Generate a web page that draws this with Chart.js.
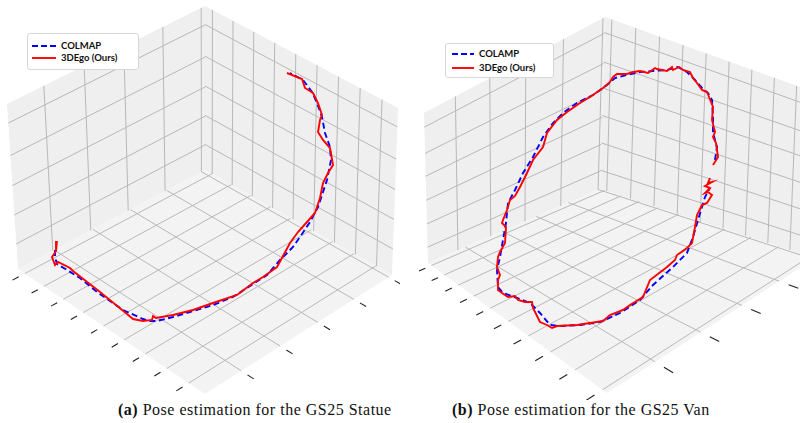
<!DOCTYPE html>
<html>
<head>
<meta charset="utf-8">
<script src="https://cdn.jsdelivr.net/npm/chart.js@4.4.0/dist/chart.umd.min.js"></script>
<style>
    body { margin: 0; width: 800px; height: 423px; overflow: hidden; background: #fff; position: relative; }
    .panel { position: absolute; top: 0; width: 400px; height: 400px; }
    .legend { position: absolute; background: #fff; border: 1px solid #d6d6d6; border-radius: 3px; font: bold 9.5px Lato, sans-serif; color: #111; }
    .legend div { position: absolute; white-space: nowrap; line-height: 10px; }
    .legend svg { position: absolute; }
    .caption { position: absolute; top: 401px; font: 16px 'Liberation Serif', serif; letter-spacing: 0.5px; color: #111; white-space: nowrap; }
</style>
</head>
<body>
<canvas id="statueChart" class="panel" width="400" height="400" style="left:0"></canvas>
<canvas id="vanChart" class="panel" width="400" height="400" style="left:400px"></canvas>

<div class="legend" style="left:27px;top:33px;width:110px;height:35px">
    <svg style="left:4px;top:10px" width="24" height="4"><line x1="0" y1="2" x2="24" y2="2" stroke="#0000ff" stroke-width="1.9" stroke-dasharray="6,3"/></svg>
    <div style="left:33px;top:7px" id="statueLabel0"></div>
    <svg style="left:4px;top:22px" width="24" height="4"><line x1="0" y1="2" x2="24" y2="2" stroke="#ff0000" stroke-width="1.9"/></svg>
    <div style="left:33px;top:19px" id="statueLabel1"></div>
</div>
<div class="legend" style="left:445px;top:43px;width:107px;height:33px">
    <svg style="left:6px;top:8px" width="22" height="4"><line x1="0" y1="2" x2="22" y2="2" stroke="#0000ff" stroke-width="1.9" stroke-dasharray="6,3"/></svg>
    <div style="left:33px;top:5px" id="vanLabel0"></div>
    <svg style="left:6px;top:22px" width="22" height="4"><line x1="0" y1="2" x2="22" y2="2" stroke="#ff0000" stroke-width="1.9"/></svg>
    <div style="left:33px;top:19px" id="vanLabel1"></div>
</div>

<div class="caption" style="left:118px"><b>(a)</b> Pose estimation for the GS25 Statue</div>
<div class="caption" style="left:452px"><b>(b)</b> Pose estimation for the GS25 Van</div>

<script>
// Trajectories in page pixels (x right, y down)
const statueLabels = ['COLMAP', '3DEgo (Ours)'];
const statueColmap = [[55,250],[55,257],[57,264],[67,270],[80,278],[97,292],[123,310],[143,319],[150,321],[157,321],[173,317],[193,311],[213,305],[233,297],[253,284],[267,275],[280,260],[293,247],[302,234],[310,222],[318,207],[323,192],[327,180],[331,160],[330,147],[325,133],[322,117],[317,103],[312,92],[303,80],[290,73]];
const statueOurs = [[57,241],[56,251],[52,257],[55,265],[58,262],[70,268],[73,271],[100,292],[127,314],[133,319],[143,321],[152,320],[153,316],[156,318],[173,315],[193,310],[213,303],[237,295],[253,283],[263,277],[277,267],[283,256],[290,243],[298,232],[307,222],[315,213],[320,198],[323,183],[328,173],[333,165],[330,148],[323,140],[318,132],[320,120],[322,115],[318,103],[313,93],[305,88],[302,79],[287,73]];

const vanLabels = ['COLAMP', '3DEgo (Ours)'];
const vanColmap = [[715,160],[717,147],[713,133],[713,117],[712,100],[708,93],[702,88],[695,80],[687,72],[678,67],[667,70],[653,71],[640,72],[627,75],[615,78],[607,85],[593,95],[577,103],[563,113],[553,123],[543,137],[533,157],[523,173],[515,190],[508,203],[506,223],[503,240],[500,257],[497,270],[498,287],[503,293],[517,298],[530,303],[540,313],[550,325],[560,326],[580,325],[600,322],[620,313],[640,300],[653,285],[673,267],[687,253],[693,237],[698,220],[702,207],[705,197],[710,188]];
const vanOurs = [[713,165],[718,157],[716,143],[713,137],[715,132],[712,120],[713,107],[709,97],[707,92],[702,90],[697,83],[693,78],[690,72],[683,70],[679,67],[673,70],[672,67],[667,71],[657,69],[655,68],[648,73],[640,71],[633,72],[627,74],[617,74],[613,77],[610,82],[603,88],[590,97],[580,103],[567,112],[557,120],[547,133],[543,147],[533,160],[527,173],[520,187],[515,196],[510,200],[507,210],[503,220],[502,223],[506,227],[505,243],[500,252],[498,257],[497,267],[500,275],[498,280],[498,290],[502,293],[508,297],[515,296],[518,300],[525,302],[532,302],[533,308],[540,322],[547,325],[552,328],[557,326],[577,325],[590,323],[603,321],[610,315],[623,310],[630,305],[643,297],[650,280],[667,267],[675,260],[677,255],[687,248],[692,243],[695,227],[697,215],[702,205],[707,203],[712,195],[708,192],[705,193],[710,188],[705,186],[712,182],[708,183],[710,178]];

// Grid tick fractions along the three box axes
const statueTicksU = [0.02, 0.22, 0.42, 0.62, 0.82];
const statueTicksV = [0.04, 0.15, 0.26, 0.37, 0.48, 0.59, 0.70, 0.81, 0.92];
const statueTicksZ = [0.16, 0.34, 0.52, 0.70, 0.89];
const vanTicksU = [0.01, 0.21, 0.41, 0.61, 0.81];
const vanTicksV = [0.03, 0.136, 0.242, 0.348, 0.454, 0.56, 0.666, 0.772, 0.878, 0.984];
const vanTicksZ = [0.11, 0.27, 0.43, 0.59, 0.74, 0.91];

// Box corners on the page (layout of the 3D axes)
const statueBox = { B0: [205,170], L0: [18,269], F0: [205,394], R0: [392,275], B1: [205,6], L1: [7,104], R1: [398,108] };
const vanBox = { B0: [600,189], L0: [428,263], F0: [607,393], R0: [815,258], B1: [605,17], L1: [424,113], R1: [822,95] };

// maps the unit square onto a quad: (0,0)->p0, (1,0)->p1, (1,1)->p2, (0,1)->p3
function quadMap(p0, p1, p2, p3) {
    const dx1 = p1[0] - p2[0], dx2 = p3[0] - p2[0], dx3 = p0[0] - p1[0] + p2[0] - p3[0];
    const dy1 = p1[1] - p2[1], dy2 = p3[1] - p2[1], dy3 = p0[1] - p1[1] + p2[1] - p3[1];
    const den = dx1 * dy2 - dx2 * dy1;
    const g = (dx3 * dy2 - dx2 * dy3) / den, h = (dx1 * dy3 - dx3 * dy1) / den;
    const a = p1[0] - p0[0] + g * p1[0], b = p3[0] - p0[0] + h * p3[0], c = p0[0];
    const d = p1[1] - p0[1] + g * p1[1], e = p3[1] - p0[1] + h * p3[1], f = p0[1];
    return (u, v) => {
        const w = g * u + h * v + 1;
        return [(a * u + b * v + c) / w, (d * u + e * v + f) / w];
    };
}

function boxPlugin(box, ticksU, ticksV, ticksZ) {
    return {
        id: 'box3d',
        beforeDatasetsDraw(chart) {
            const ctx = chart.ctx;
            const sx = chart.scales.x, sy = chart.scales.y;
            const px = p => [sx.getPixelForValue(p[0]), sy.getPixelForValue(p[1])];
            const floor = quadMap(box.B0, box.L0, box.F0, box.R0);
            const left = quadMap(box.B0, box.L0, box.L1, box.B1);
            const right = quadMap(box.B0, box.R0, box.R1, box.B1);

            const pane = (m, fill) => {
                ctx.beginPath();
                [[0,0],[1,0],[1,1],[0,1]].forEach((q, i) => {
                    const p = px(m(q[0], q[1]));
                    i ? ctx.lineTo(p[0], p[1]) : ctx.moveTo(p[0], p[1]);
                });
                ctx.closePath();
                ctx.fillStyle = fill;
                ctx.fill();
            };
            const seg = (m, a, b) => {
                const p = px(m(a[0], a[1])), q = px(m(b[0], b[1]));
                ctx.moveTo(p[0], p[1]);
                ctx.lineTo(q[0], q[1]);
            };

            ctx.save();
            pane(left, '#efefef');
            pane(right, '#efefef');
            pane(floor, '#f3f3f3');

            ctx.beginPath();
            ctx.strokeStyle = '#b8b8b8';
            ctx.lineWidth = 1;
            ticksU.forEach(u => { seg(floor, [u,0], [u,1]); seg(left, [u,0], [u,1]); });
            ticksV.forEach(v => { seg(floor, [0,v], [1,v]); seg(right, [v,0], [v,1]); });
            ticksZ.forEach(z => { seg(left, [0,z], [1,z]); seg(right, [0,z], [1,z]); });
            ctx.stroke();

            // tick marks outside the two front floor edges
            ctx.beginPath();
            ctx.strokeStyle = '#222';
            ctx.lineWidth = 1.1;
            ticksV.forEach(v => seg(floor, [1.03,v], [1.06,v]));
            ticksU.forEach(u => seg(floor, [u,1.03], [u,1.06]));
            ctx.stroke();
            ctx.restore();
        }
    };
}

function toPoints(arr) {
    return arr.map(p => ({ x: p[0], y: p[1] }));
}

function makePanel(canvasId, xMin, labels, colmap, ours, box, ticksU, ticksV, ticksZ) {
    return new Chart(document.getElementById(canvasId), {
        type: 'scatter',
        data: {
            datasets: [{
                label: labels[0],
                data: toPoints(colmap),
                showLine: true,
                borderColor: '#0000ff',
                borderWidth: 1.9,
                borderDash: [6, 3.5],
                pointRadius: 0,
                order: 1
            }, {
                label: labels[1],
                data: toPoints(ours),
                showLine: true,
                borderColor: '#ff0000',
                borderWidth: 1.9,
                pointRadius: 0,
                order: 0
            }]
        },
        options: {
            responsive: false,
            animation: false,
            events: [],
            layout: { padding: 0 },
            plugins: {
                legend: { display: false },
                tooltip: { enabled: false }
            },
            scales: {
                x: { type: 'linear', min: xMin, max: xMin + 400, display: false },
                y: { type: 'linear', min: 0, max: 400, reverse: true, display: false }
            }
        },
        plugins: [boxPlugin(box, ticksU, ticksV, ticksZ)]
    });
}

makePanel('statueChart', 0, statueLabels, statueColmap, statueOurs, statueBox, statueTicksU, statueTicksV, statueTicksZ);
makePanel('vanChart', 400, vanLabels, vanColmap, vanOurs, vanBox, vanTicksU, vanTicksV, vanTicksZ);

document.getElementById('statueLabel0').textContent = statueLabels[0];
document.getElementById('statueLabel1').textContent = statueLabels[1];
document.getElementById('vanLabel0').textContent = vanLabels[0];
document.getElementById('vanLabel1').textContent = vanLabels[1];
</script>
</body>
</html>
